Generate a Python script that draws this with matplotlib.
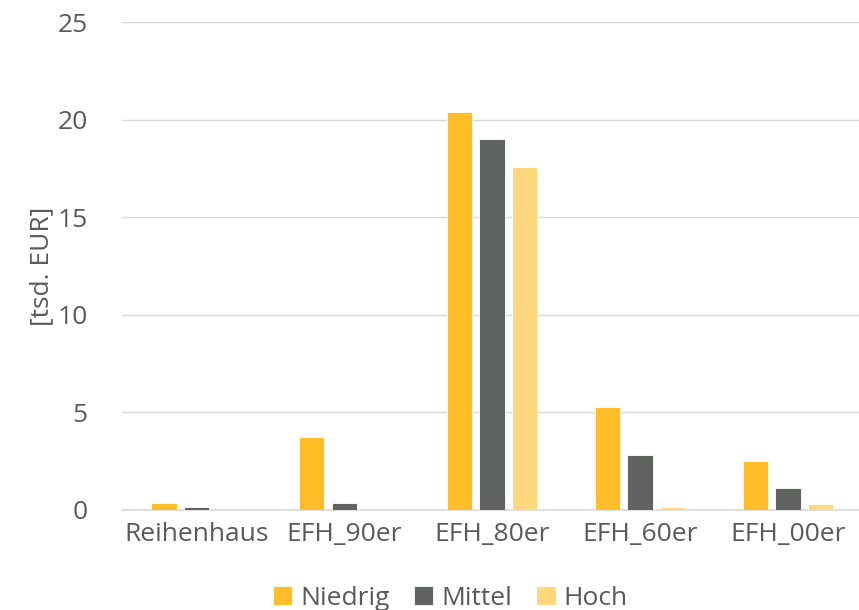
import numpy as np
import matplotlib.pyplot as plt

# Kosten je Gebaeudetyp und Szenario [tsd. EUR]
categories = ["Reihenhaus", "EFH_90er", "EFH_80er", "EFH_60er", "EFH_00er"]
niedrig = [0.33, 3.75, 20.4, 5.28, 2.5]
mittel = [0.13, 0.33, 19.0, 2.8, 1.12]
hoch = [0.0, 0.0, 17.6, 0.12, 0.28]
series_names = ["Niedrig", "Mittel", "Hoch"]
y_ticks = [0, 5, 10, 15, 20, 25]

colors = ["#FFBE27", "#5F6461", "#FFD87E"]
text_color = "#595959"

plt.rcParams["font.family"] = ["Open Sans", "DejaVu Sans"]

fig = plt.figure(figsize=(8.59, 6.10), dpi=100)
ax = fig.add_axes([0.1425, 0.1645, 0.8575, 0.7990])

x = np.arange(len(categories))
width = 0.172
step = 0.22
for i, (vals, name) in enumerate(zip([niedrig, mittel, hoch], series_names)):
    ax.bar(x + (i - 1) * step, vals, width, color=colors[i], label=name,
           edgecolor="white", linewidth=0.6, zorder=3)

ax.set_xlim(-0.5, 4.48)
ax.set_ylim(0, 25)
ax.set_yticks(y_ticks)
ax.set_xticks(x)
ax.set_xticklabels(categories)
ax.tick_params(axis="both", length=0, labelsize=19, colors=text_color)
ax.tick_params(axis="y", pad=25)
ax.tick_params(axis="x", pad=9)

ax.grid(axis="y", color="#D9D9D9", linewidth=1.0, zorder=0)
for side in ["top", "right", "left"]:
    ax.spines[side].set_visible(False)
ax.spines["bottom"].set_color("#D9D9D9")
ax.spines["bottom"].set_linewidth(1.2)

ax.set_ylabel("[tsd. EUR]", fontsize=19, color=text_color, labelpad=2)

ax.legend(loc="upper center", bbox_to_anchor=(0.445, -0.118), ncol=3,
          frameon=False, fontsize=19, labelcolor=text_color,
          handlelength=0.75, handleheight=0.75, handletextpad=0.3,
          columnspacing=0.9, borderpad=0.2)

fig.savefig("out.png", dpi=100)
